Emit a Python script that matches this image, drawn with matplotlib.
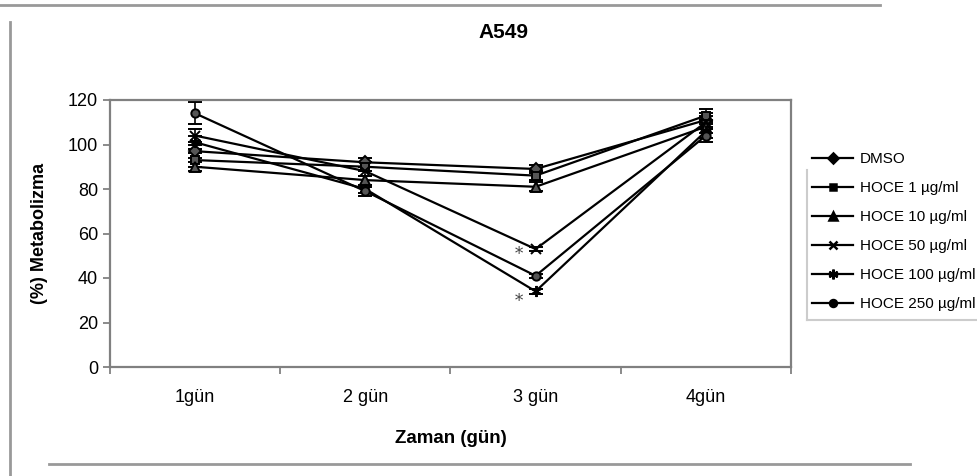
import matplotlib.pyplot as plt
from matplotlib.lines import Line2D
import numpy as np

plt.rcParams['font.family'] = ['Liberation Sans', 'DejaVu Sans']

days = ['1gün', '2 gün', '3 gün', '4gün']
labels = ['DMSO', 'HOCE 1 µg/ml', 'HOCE 10 µg/ml', 'HOCE 50 µg/ml',
          'HOCE 100 µg/ml', 'HOCE 250 µg/ml']

dmso = [97, 92, 89, 111]
hoce1 = [93, 90, 86, 113]
hoce10 = [90, 84, 81, 108]
hoce50 = [104, 88, 53, 110]
hoce100 = [101, 80, 34, 106]
hoce250 = [114, 79, 41, 104]

dmso_err = [3, 2, 2, 3]
hoce1_err = [3, 2, 2, 3]
hoce10_err = [2, 2, 2, 3]
hoce50_err = [3, 2, 1, 3]
hoce100_err = [3, 2, 1, 3]
hoce250_err = [5, 2, 1, 3]

series = [dmso, hoce1, hoce10, hoce50, hoce100, hoce250]
errors = [dmso_err, hoce1_err, hoce10_err, hoce50_err, hoce100_err, hoce250_err]
markers = ['D', 's', '^', 'x', (6, 2, 0), 'o']
sizes = [6, 6, 7, 7, 8, 6]

# significance marks (day index, value)
stars = [(2, 50.5), (2, 29.5)]

fig = plt.figure(figsize=(9.78, 4.76), dpi=100)
ax = fig.add_axes([110 / 978, 1 - 367 / 476, 681 / 978, 267 / 476])

x = np.arange(1, len(days) + 1)
handles = []
for vals, err, lab, m, s in zip(series, errors, labels, markers, sizes):
    ax.errorbar(x, vals, yerr=err, color='black', lw=1.6, marker=m, ms=s,
                mfc='#555555', mec='black', mew=1.4, capsize=5, elinewidth=1.2,
                ecolor='black')
    handles.append(Line2D([], [], color='black', lw=1.6, marker=m, ms=s - 1,
                          mfc='black', mec='black', mew=1.8, label=lab))

for d, v in stars:
    ax.text(x[d] - 0.1, v, '*', fontsize=12, color='#444444',
            family='DejaVu Serif', ha='center', va='center')

ax.set_xlim(0.5, 4.5)
ax.set_ylim(0, 120)
ax.set_yticks(range(0, 121, 20))
ax.set_xticks(np.arange(0.5, 4.6, 1))
ax.set_xticklabels([])
ax.set_xticks(x, minor=True)
ax.set_xticklabels(days, minor=True)
ax.tick_params(axis='x', which='minor', length=0, pad=16, labelsize=13)
ax.tick_params(axis='both', which='major', length=5, width=1.2, color='#777777',
               labelsize=13)
for sp in ax.spines.values():
    sp.set_color('#808080')
    sp.set_linewidth(1.6)

fig.text(503 / 978, 1 - 33 / 476, 'A549', fontsize=15, fontweight='bold',
         ha='center', va='center')
ax.set_ylabel('(%) Metabolizma', fontsize=13, fontweight='bold', labelpad=14)
ax.set_xlabel('Zaman (gün)', fontsize=13.5, fontweight='bold', labelpad=17)

leg = ax.legend(handles=handles, loc='upper left',
                bbox_to_anchor=(812 / 978, 1 - 152 / 476),
                bbox_transform=fig.transFigure, frameon=False, fontsize=11,
                handlelength=2.7, handletextpad=0.45, labelspacing=0.98,
                borderpad=0, borderaxespad=0)

# legend box edges as they show in the scan
box_kw = dict(color='#cccccc', lw=1.5, transform=fig.transFigure)
fig.add_artist(Line2D([807 / 978, 807 / 978], [1 - 170 / 476, 1 - 320 / 476], **box_kw))
fig.add_artist(Line2D([807 / 978, 1], [1 - 320 / 476, 1 - 320 / 476], **box_kw))

# scanned page frame
frame_kw = dict(color='#999999', lw=2, transform=fig.transFigure)
fig.add_artist(Line2D([0, 0.9], [1 - 5 / 476, 1 - 5 / 476], **frame_kw))
fig.add_artist(Line2D([10 / 978, 10 / 978], [0, 1 - 22 / 476], **frame_kw))
fig.add_artist(Line2D([0.05, 0.93], [12 / 476, 12 / 476], **frame_kw))

fig.savefig('out.png', dpi=100)
